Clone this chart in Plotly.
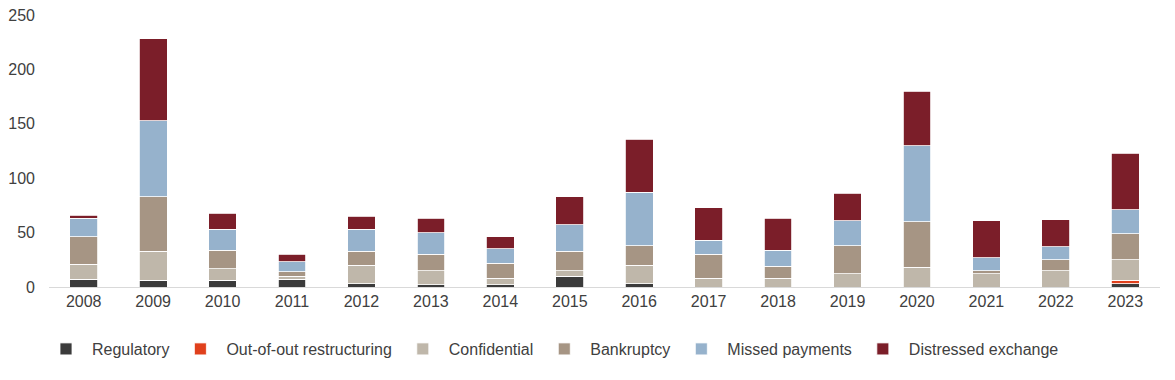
import plotly.graph_objects as go

years = [str(y) for y in range(2008, 2024)]

regulatory = [7, 6, 6, 7, 3, 2, 2, 10, 3, 0, 0, 0, 0, 0, 0, 3]
out_of_court = [0, 0, 0, 0, 0, 0, 0, 0, 0, 0, 0, 0, 0, 0, 0, 3]
confidential = [14, 27, 11, 3, 17, 13, 6, 5, 17, 8, 8, 12, 18, 12, 15, 19]
bankruptcy = [25, 50, 17, 4, 13, 15, 14, 18, 18, 22, 11, 26, 42, 3, 10, 24]
missed_payments = [17, 70, 19, 9, 20, 20, 13, 24, 49, 13, 15, 23, 70, 12, 12, 22]
distressed_exchange = [3, 75, 15, 7, 12, 13, 11, 26, 49, 30, 29, 25, 50, 34, 25, 52]

series = [
    ("Regulatory", regulatory, "#3b3b3b"),
    ("Out-of-out restructuring", out_of_court, "#e0401c"),
    ("Confidential", confidential, "#bfb7aa"),
    ("Bankruptcy", bankruptcy, "#a69584"),
    ("Missed payments", missed_payments, "#96b2cc"),
    ("Distressed exchange", distressed_exchange, "#7b1e29"),
]

fig = go.Figure()
for name, vals, color in series:
    fig.add_trace(go.Bar(
        x=years, y=vals, name=name,
        marker=dict(color=color, line=dict(color="white", width=0.8)),
    ))

font_family = "Liberation Sans, Arial, sans-serif"
fig.update_layout(
    template="none",
    barmode="stack",
    bargap=0.6,
    width=1175, height=380,
    margin=dict(l=49, r=15, t=15, b=93, autoexpand=False),
    paper_bgcolor="white", plot_bgcolor="white",
    font=dict(family=font_family, size=16, color="#404040"),
    xaxis=dict(
        type="category", automargin=False,
        showline=True, linecolor="#d9d9d9", linewidth=1,
        showgrid=False, ticks="", tickfont=dict(size=16, color="#404040"),
    ),
    yaxis=dict(
        range=[0, 250], tickvals=[0, 50, 100, 150, 200, 250], automargin=False,
        showgrid=False, zeroline=False, showline=False, ticks="",
        ticklabelstandoff=13,
        tickfont=dict(size=16, color="#404040"),
    ),
    legend=dict(
        orientation="h", x=-0.0081, xanchor="left", y=-0.228, yanchor="middle",
        font=dict(size=16, color="#404040"), traceorder="normal",
        itemwidth=42, bgcolor="rgba(0,0,0,0)",
    ),
)

fig.write_html(
    "out.html",
    config={"displayModeBar": False},
    post_script="document.body.style.margin='0px';",
)
